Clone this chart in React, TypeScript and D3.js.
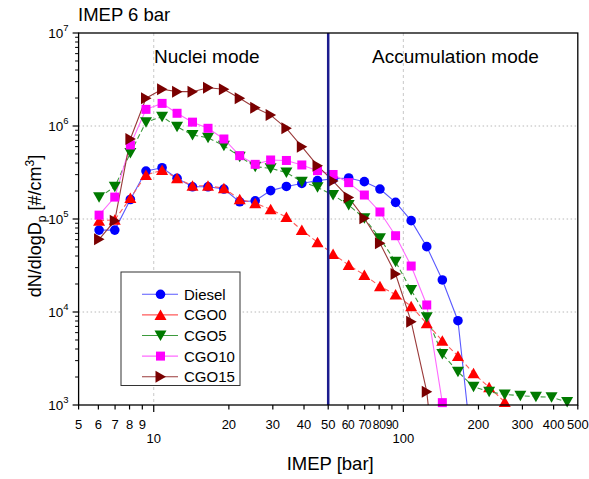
import React from "react";
import * as d3 from "d3";

const xValues = [6.04, 6.98, 8.06, 9.31, 10.8, 12.4, 14.3, 16.5, 19.1, 22.1, 25.5, 29.4, 34.0, 39.2, 45.3, 52.3, 60.4, 69.8, 80.6, 93.1, 107.5, 124.1, 143.3, 165.5, 191.1, 220.7, 254.8, 294.3, 339.8, 392.4, 453.2];

const dieselValues = [7.6e4, 7.6e4, 1.62e5, 3.28e5, 3.56e5, 2.74e5, 2.22e5, 2.22e5, 2.10e5, 1.53e5, 1.57e5, 2.02e5, 2.24e5, 2.41e5, 2.59e5, 2.70e5, 2.76e5, 2.52e5, 2.10e5, 1.51e5, 9.6e4, 5.04e4, 2.21e4, 8.06e3, 230];
const cgo0Values = [9.6e4, 9.8e4, 1.68e5, 2.97e5, 3.36e5, 2.74e5, 2.28e5, 2.28e5, 2.14e5, 1.63e5, 1.48e5, 1.27e5, 1.05e5, 7.6e4, 5.61e4, 4.20e4, 3.20e4, 2.50e4, 1.89e4, 1.54e4, 1.15e4, 7.55e3, 4.91e3, 3.37e3, 2.19e3, 1.55e3, 1.08e3];
const cgo5Values = [1.71e5, 2.22e5, 5.12e5, 1.10e6, 1.26e6, 9.83e5, 8.0e5, 7.48e5, 6.14e5, 4.68e5, 3.65e5, 3.51e5, 3.16e5, 2.52e5, 2.19e5, 1.81e5, 1.41e5, 1.02e5, 6.2e4, 3.47e4, 1.72e4, 8.77e3, 3.53e3, 2.28e3, 1.57e3, 1.39e3, 1.30e3, 1.26e3, 1.23e3, 1.21e3, 1.08e3];
const cgo10Values = [1.10e5, 1.72e5, 6.25e5, 1.51e6, 1.75e6, 1.37e6, 1.10e6, 9.45e5, 7.25e5, 4.80e5, 3.87e5, 4.31e5, 4.26e5, 3.81e5, 3.31e5, 3.01e5, 2.46e5, 1.81e5, 1.19e5, 6.61e4, 3.12e4, 1.19e4, 1.06e3];
const cgo15Values = [6.05e4, 9.6e4, 7.25e5, 1.99e6, 2.48e6, 2.34e6, 2.34e6, 2.58e6, 2.48e6, 1.99e6, 1.57e6, 1.31e6, 9.45e5, 5.99e5, 3.74e5, 2.56e5, 1.70e5, 1.02e5, 5.48e4, 2.56e4, 7.87e3, 1.39e3, 40];

const seriesNames = ["Diesel", "CGO0", "CGO5", "CGO10", "CGO15"];

const xTickValues = [5, 6, 7, 8, 9, 10, 20, 30, 40, 50, 60, 70, 80, 90, 100, 200, 300, 400, 500];
const xTickLabels = ["5", "6", "7", "8", "9", "10", "20", "30", "40", "50", "60", "70", "80", "90", "100", "200", "300", "400", "500"];
const yTickExponents = [3, 4, 5, 6, 7];

const FONT = "'Liberation Sans', Arial, Helvetica, sans-serif";

const styles = [
  { values: dieselValues, marker: "circle", fill: "#0000ff", line: "#5a5aff", dash: "" },
  { values: cgo0Values, marker: "up", fill: "#ff0000", line: "#ff5a5a", dash: "5,3" },
  { values: cgo5Values, marker: "down", fill: "#007a00", line: "#3c9a3c", dash: "5,3" },
  { values: cgo10Values, marker: "square", fill: "#ff00ff", line: "#ff6aff", dash: "" },
  { values: cgo15Values, marker: "right", fill: "#7a0000", line: "#9a3a3a", dash: "" },
];

function Marker({ kind, x, y, fill }: { kind: string; x: number; y: number; fill: string }) {
  if (kind === "circle") return <circle cx={x} cy={y} r={4.8} fill={fill} />;
  if (kind === "square") return <rect x={x - 4.5} y={y - 4.5} width={9} height={9} fill={fill} />;
  let p = "";
  if (kind === "up") p = "M0,-5.5L6,5L-6,5Z";
  if (kind === "down") p = "M0,5.5L6,-5L-6,-5Z";
  if (kind === "right") p = "M5.5,0L-5,-6L-5,6Z";
  return <path d={p} transform={`translate(${x},${y})`} fill={fill} />;
}

export default function App() {
  const left = 78.6, right = 577.8, top = 33, bottom = 405;
  const x = d3.scaleLog().domain([5, 500]).range([left, right]);
  const y = d3.scaleLog().domain([1e3, 1e7]).range([bottom, top]);

  const line = d3
    .line<[number, number]>()
    .x((d) => x(d[0]))
    .y((d) => y(d[1]));

  const minorY: number[] = [];
  for (let e = 3; e < 7; e++) for (let m = 2; m <= 9; m++) minorY.push(m * Math.pow(10, e));

  const legendX = 121, legendY = 272, legendW = 119, legendH = 113.5;
  const entryY0 = 294.3, entryStep = 20.6;

  return (
    <svg width={589} height={479} style={{ position: "absolute", left: 0, top: 0, background: "#fff" }} fontFamily={FONT}>
      <defs>
        <clipPath id="plotClip">
          <rect x={left} y={top} width={right - left} height={bottom - top} />
        </clipPath>
      </defs>
      <rect x={0} y={0} width={589} height={479} fill="#fff" />
      {/* grid */}
      {[1e4, 1e5, 1e6].map((v) => (
        <line key={"hg" + v} x1={left} x2={right} y1={y(v)} y2={y(v)} stroke="#b8b8b8" strokeWidth={1} strokeDasharray="1.5,2.5" />
      ))}
      {[10, 100].map((v) => (
        <line key={"vg" + v} x1={x(v)} x2={x(v)} y1={top} y2={bottom} stroke="#c8c8c8" strokeWidth={1} strokeDasharray="3,3" />
      ))}
      {/* series lines */}
      <g clipPath="url(#plotClip)">
        {styles.map((s, i) => {
          const pts = s.values.map((v, j) => [xValues[j], v] as [number, number]);
          return (
            <path key={"l" + i} d={line(pts) || ""} fill="none" stroke={s.line} strokeWidth={1.1} strokeDasharray={s.dash} />
          );
        })}
      </g>
      {/* markers */}
      {styles.map((s, i) => (
        <g key={"m" + i}>
          {s.values.map((v, j) =>
            v >= 1e3 ? <Marker key={j} kind={s.marker} x={x(xValues[j])} y={y(v)} fill={s.fill} /> : null
          )}
        </g>
      ))}
      {/* divider at 50 */}
      <line x1={x(50)} x2={x(50)} y1={top} y2={bottom} stroke="#1c1c8e" strokeWidth={2.5} />
      {/* frame */}
      <rect x={left} y={top} width={right - left} height={bottom - top} fill="none" stroke="#000" strokeWidth={1.3} />
      {/* y ticks */}
      {yTickExponents.map((e) => (
        <g key={"yt" + e}>
          <line x1={left - 6} x2={left} y1={y(Math.pow(10, e))} y2={y(Math.pow(10, e))} stroke="#000" strokeWidth={1.2} />
          <text x={left - 10} y={y(Math.pow(10, e)) + 5} textAnchor="end" fontSize={13.5}>
            10<tspan dy={-7} fontSize={9.5}>{e}</tspan>
          </text>
        </g>
      ))}
      {minorY.map((v) => (
        <line key={"ym" + v} x1={left - 3.5} x2={left} y1={y(v)} y2={y(v)} stroke="#000" strokeWidth={1} />
      ))}
      {/* x ticks */}
      {xTickValues.map((v, i) => {
        const major = v === 10 || v === 100;
        const crowded = v >= 60 && v <= 90;
        return (
          <g key={"xt" + v}>
            <line x1={x(v)} x2={x(v)} y1={bottom} y2={bottom + (major ? 7 : 4.5)} stroke="#000" strokeWidth={1.2} />
            <text x={x(v)} y={major ? 443 : 429} textAnchor="middle" fontSize={crowded ? 12 : 13} letterSpacing={crowded ? -0.4 : 0}>
              {xTickLabels[i]}
            </text>
          </g>
        );
      })}
      {/* titles */}
      <text x={78} y={21} fontSize={18.5}>IMEP 6 bar</text>
      <text x={154} y={63} fontSize={19}>Nuclei mode</text>
      <text x={372} y={63} fontSize={19}>Accumulation mode</text>
      <text x={(left + right) / 2 + 2} y={470} textAnchor="middle" fontSize={18.5}>IMEP [bar]</text>
      <text transform={`translate(41,${226}) rotate(-90)`} textAnchor="middle" fontSize={18}>
        dN/dlogD<tspan dy={5} fontSize={12}>p</tspan>
        <tspan dy={-5}> [#/cm</tspan>
        <tspan dy={-7} fontSize={12}>3</tspan>
        <tspan dy={7}>]</tspan>
      </text>
      {/* legend */}
      <rect x={legendX} y={legendY} width={legendW} height={legendH} fill="#fff" stroke="#333" strokeWidth={1} />
      {styles.map((s, i) => {
        const ly = entryY0 + i * entryStep;
        return (
          <g key={"lg" + i}>
            <line x1={142} x2={178} y1={ly} y2={ly} stroke={s.line} strokeWidth={1.1} />
            <Marker kind={s.marker} x={160.5} y={ly} fill={s.fill} />
            <text x={184} y={ly + 5.5} fontSize={15}>{seriesNames[i]}</text>
          </g>
        );
      })}
    </svg>
  );
}
